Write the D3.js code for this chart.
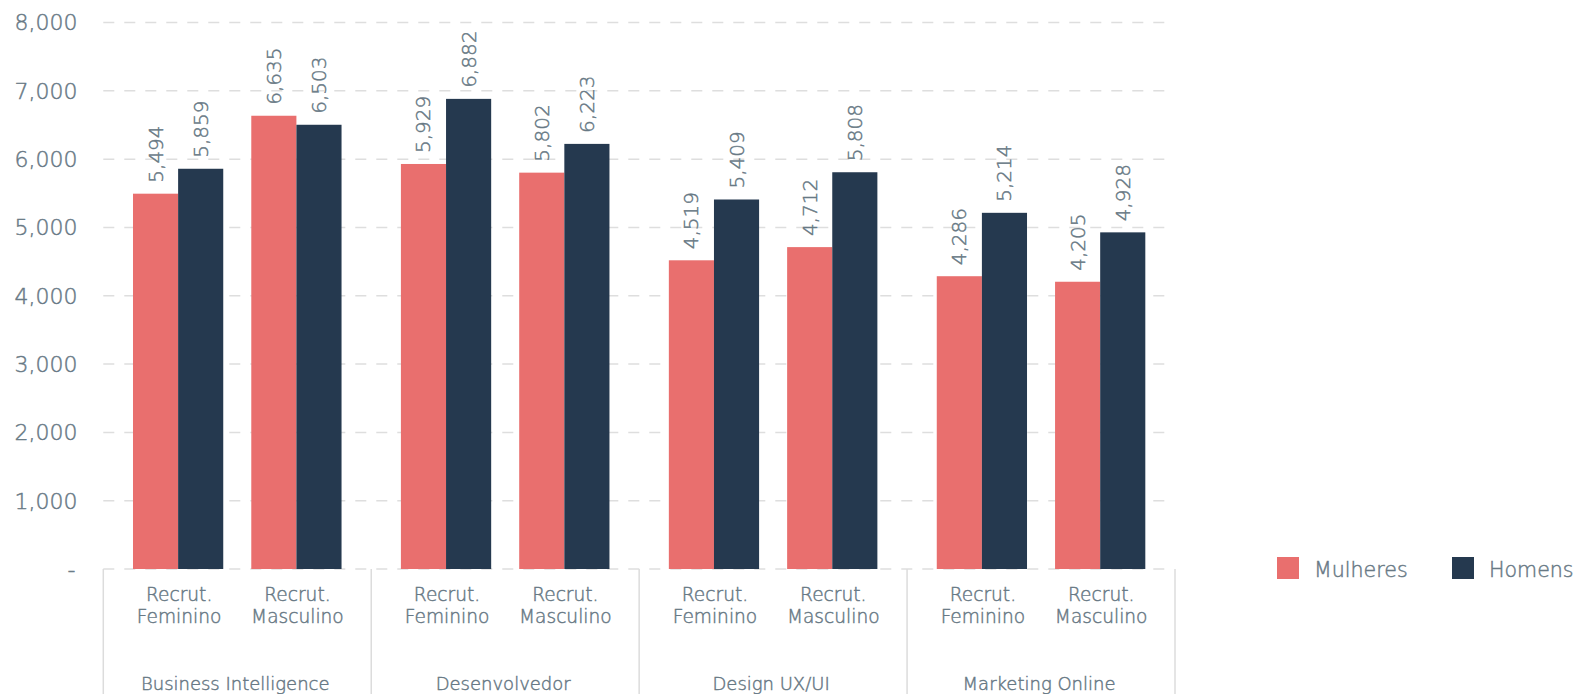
<!DOCTYPE html>
<html>
<head>
<meta charset="utf-8">
<script src="https://cdn.jsdelivr.net/npm/d3@7/dist/d3.min.js"></script>
<style>
  html, body { margin: 0; padding: 0; background: #ffffff; }
  svg { display: block; }
  svg text {
    font-family: "DejaVu Sans", sans-serif;
    font-weight: 200;
    fill: #687985;
    stroke: #687985;
    stroke-width: 0.45px;
  }
</style>
</head>
<body>
<svg id="chart" width="1576" height="694"></svg>
<script>
// Salary data grouped by area and recruiter gender
const groups = ["Business Intelligence", "Desenvolvedor", "Design UX/UI", "Marketing Online"];
const subcategories = ["Recrut. Feminino", "Recrut. Masculino"];
const seriesNames = ["Mulheres", "Homens"];
const mulheres = [5494, 6635, 5929, 5802, 4519, 4712, 4286, 4205];
const homens   = [5859, 6503, 6882, 6223, 5409, 5808, 5214, 4928];
const yTicks = [0, 1000, 2000, 3000, 4000, 5000, 6000, 7000, 8000];
const colors = ["#E96F6E", "#25394F"];

const svg = d3.select("#chart");

const x0 = d3.scaleBand().domain(groups).range([103.3, 1175]).padding(0);
const x1 = d3.scaleBand().domain(subcategories).range([0, x0.bandwidth()])
  .paddingInner(0.237).paddingOuter(0.251);
const x2 = d3.scaleBand().domain(seriesNames).range([0, x1.bandwidth()]).padding(0);
const y = d3.scaleLinear().domain([0, 8000]).range([569, 22.5]);
const fmt = d3.format(",");

// Dashed horizontal grid
svg.append("g")
  .selectAll("line")
  .data(yTicks)
  .join("line")
  .attr("x1", 103.3).attr("x2", 1168)
  .attr("y1", d => y(d)).attr("y2", d => y(d))
  .attr("stroke", "#dedede")
  .attr("stroke-width", 1.5)
  .attr("stroke-dasharray", "11,10");

// Y axis labels
const yAxis = d3.axisLeft(y).tickValues(yTicks).tickSize(0).tickPadding(0)
  .tickFormat(d => d === 0 ? "-" : fmt(d));
const yg = svg.append("g").attr("transform", "translate(77.5,0)").call(yAxis);
yg.select(".domain").remove();
yg.attr("font-family", null).attr("font-size", null);
yg.selectAll("text")
  .style("font-size", "22px")
  .attr("dy", "0.34em")
  .attr("dx", d => d === 0 ? -2 : 0);

// Rows: one per (group, subcategory)
const rows = [];
groups.forEach((g, gi) => {
  subcategories.forEach((s, si) => {
    const idx = gi * 2 + si;
    rows.push({ group: g, sub: s, values: [mulheres[idx], homens[idx]] });
  });
});

// Bars with rotated value labels
const barG = svg.append("g");
rows.forEach(r => {
  const bx = x0(r.group) + x1(r.sub);
  seriesNames.forEach((name, i) => {
    const v = r.values[i];
    const xb = bx + x2(name);
    barG.append("rect")
      .attr("x", xb)
      .attr("y", y(v))
      .attr("width", x2.bandwidth())
      .attr("height", y(0) - y(v))
      .attr("fill", colors[i]);
    const cx = xb + x2.bandwidth() / 2;
    barG.append("text")
      .attr("transform", `translate(${cx + 7},${y(v) - 11}) rotate(-90)`)
      .attr("text-anchor", "start")
      .style("font-size", "20px")
      .text(fmt(v));
  });
});

// Group dividers below the axis
const dividers = groups.map(g => x0(g)).concat([x0.range()[1]]);
svg.append("g").selectAll("line")
  .data(dividers)
  .join("line")
  .attr("x1", d => d).attr("x2", d => d)
  .attr("y1", 569).attr("y2", 694)
  .attr("stroke", "#dcdcdc")
  .attr("stroke-width", 1.5);

// Subcategory labels (two lines)
const subG = svg.append("g");
rows.forEach(r => {
  const cx = x0(r.group) + x1(r.sub) + x1.bandwidth() / 2 + 1;
  const parts = r.sub.split(" ");
  const t = subG.append("text")
    .attr("x", cx)
    .attr("y", 601)
    .attr("text-anchor", "middle")
    .style("font-size", "18.6px");
  parts.forEach((p, i) => {
    t.append("tspan").attr("x", cx).attr("dy", i === 0 ? 0 : 21.5).text(p);
  });
});

// Group labels
svg.append("g").selectAll("text")
  .data(groups)
  .join("text")
  .attr("x", d => x0(d) + x0.bandwidth() / 2 - 2)
  .attr("y", 690)
  .attr("text-anchor", "middle")
  .style("font-size", "18px")
  .text(d => d);

// Legend
const legendX = [1277, 1452];
const lg = svg.append("g");
seriesNames.forEach((name, i) => {
  lg.append("rect")
    .attr("x", legendX[i]).attr("y", 557)
    .attr("width", 22).attr("height", 22)
    .attr("fill", colors[i]);
  lg.append("text")
    .attr("x", legendX[i] + 37).attr("y", 576.5)
    .style("font-size", "20.6px")
    .text(name);
});
</script>
</body>
</html>
